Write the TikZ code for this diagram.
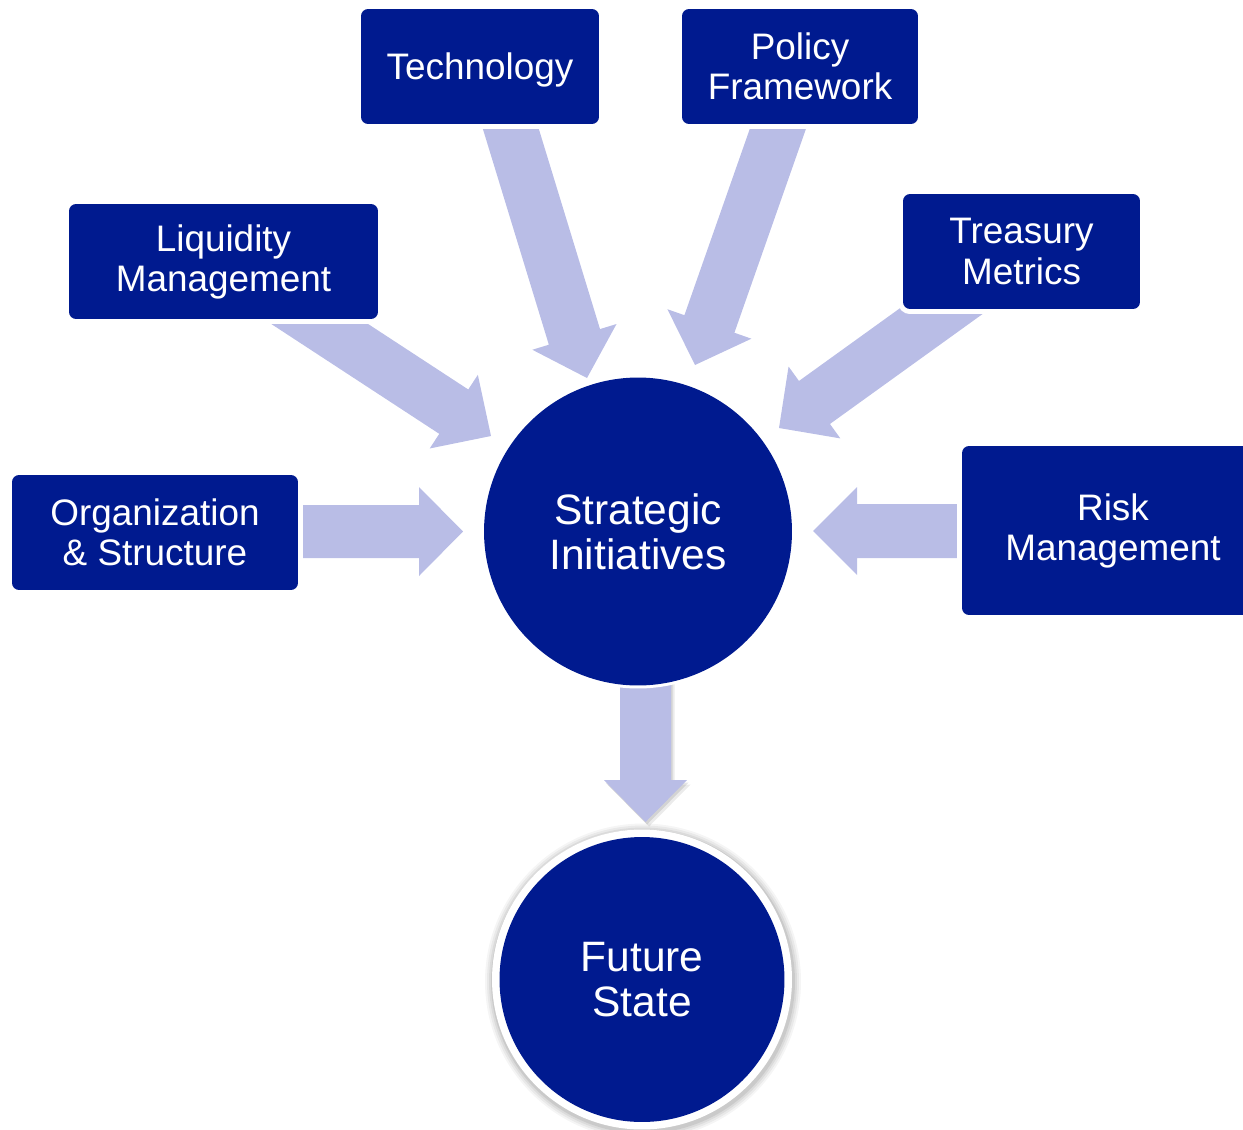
\documentclass[tikz,border=0pt]{standalone}
\usepackage{fontspec}
\setmainfont{Liberation Sans}
\usetikzlibrary{calc}
\definecolor{navy}{RGB}{0,26,143}
\definecolor{lav}{RGB}{185,189,230}
\tikzset{
  boxnode/.style={rectangle, rounded corners=0.14cm, fill=navy,
    preaction={draw=white, line width=0.2cm}, text=white, align=center,
    inner sep=0pt, font=\fontsize{21}{22.8}\selectfont},
  bigcircle/.style={circle, fill=navy, text=white, align=center,
    inner sep=0pt, font=\fontsize{24.2}{25.8}\selectfont},
}
% #1 extra style, #2 start, #3 tip, #4 shaft half width, #5 head half width, #6 head length
\newcommand\blockarrow[6][]{%
  \path ($(#3)!#6!(#2)$) coordinate (bah);
  \fill[lav,#1] ($(#2)!#4!90:(#3)$) -- ($(bah)!#4!90:(#3)$) -- ($(bah)!#5!90:(#3)$)
    -- (#3) -- ($(bah)!#5!-90:(#3)$) -- ($(bah)!#4!-90:(#3)$) -- ($(#2)!#4!-90:(#3)$) -- cycle;}
\begin{document}
\begin{tikzpicture}[x=0.02cm,y=-0.02cm]
\useasboundingbox (0,0) rectangle (1243,1129);
\clip (0,0) rectangle (1243,1129);

% arrow end points
\coordinate (orgS) at (285,531.5);  \coordinate (orgE) at (463,531.5);
\coordinate (riskS) at (975,531);   \coordinate (riskE) at (813,531);
\coordinate (downS) at (645.5,670); \coordinate (downE) at (645.5,822);
\coordinate (techS) at (502,100);   \coordinate (techE) at (587,378);
\coordinate (polS) at (788,100);    \coordinate (polE) at (695,365);
\coordinate (liqS) at (283,300);    \coordinate (liqE) at (491,436);
\coordinate (trS) at (990,276);     \coordinate (trE) at (779,428);

% block arrows
\blockarrow{orgS}{orgE}{0.53cm}{0.89cm}{0.88cm}
\blockarrow{riskS}{riskE}{0.54cm}{0.88cm}{0.88cm}
\blockarrow{techS}{techE}{0.535cm}{0.88cm}{0.86cm}
\blockarrow{polS}{polE}{0.53cm}{0.89cm}{0.87cm}
\blockarrow{liqS}{liqE}{0.53cm}{0.88cm}{0.89cm}
\blockarrow{trS}{trE}{0.53cm}{0.886cm}{0.874cm}
\blockarrow[black, opacity=0.08, transform canvas={shift={(0.07cm,-0.09cm)}}]{downS}{downE}{0.51cm}{0.83cm}{0.84cm}
\blockarrow[black, opacity=0.10, transform canvas={shift={(0.03cm,-0.05cm)}}]{downS}{downE}{0.51cm}{0.83cm}{0.84cm}
\blockarrow{downS}{downE}{0.51cm}{0.83cm}{0.84cm}

% boxes
\node[boxnode, minimum width=4.76cm, minimum height=2.3cm] (tech) at (480,66.5) {\raisebox{-2pt}[\height][\depth]{Technology}};
\node[boxnode, minimum width=4.72cm, minimum height=2.3cm] (pol) at (800,66.5) {Policy\\Framework};
\node[boxnode, minimum width=6.18cm, minimum height=2.3cm] (liq) at (223.5,261.5) {Liquidity\\Management};
\node[boxnode, minimum width=4.74cm, minimum height=2.3cm] (tr) at (1021.5,251.5) {Treasury\\Metrics};
\node[boxnode, minimum width=5.72cm, minimum height=2.3cm] (org) at (155,532.5) {Organization\\\&~Structure};
\node[boxnode, minimum width=6.04cm, minimum height=3.38cm] (risk) at (1113,530.5) {Risk\\Management};

% central circle
\node[bigcircle, minimum size=6.16cm, preaction={draw=white, line width=0.12cm}] (si) at (638,531.5) {Strategic\\Initiatives};

% future state with white ring and soft shadow
\coordinate (fsc) at (642,979.5);
\foreach \r/\o in {3.16/0.04,3.12/0.05,3.08/0.06,3.04/0.08}
  \fill[black, opacity=\o] ($(fsc)+(1,2)$) circle [radius=\r cm];
\fill[white] (fsc) circle [radius=3.0cm];
\node[bigcircle, minimum size=5.7cm] (fs) at (fsc) {Future\\State};
\end{tikzpicture}
\end{document}
